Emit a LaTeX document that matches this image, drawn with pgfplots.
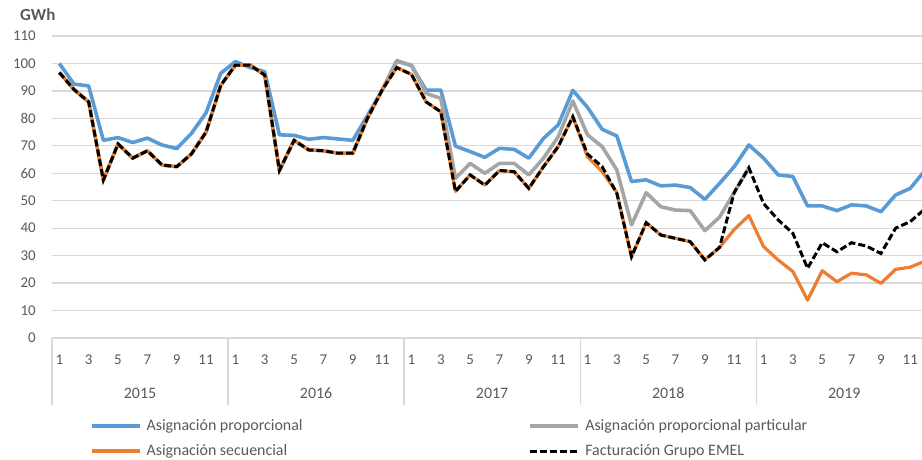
\documentclass[border=0pt]{standalone}
\usepackage{pgfplots}
\pgfplotsset{compat=1.18}
\usepackage{fontspec}
\setmainfont{Carlito}
\definecolor{cblue}{HTML}{5B9BD5}
\definecolor{corange}{HTML}{ED7D31}
\definecolor{cgray}{HTML}{A5A5A5}
\definecolor{ctext}{HTML}{595959}
\definecolor{cgrid}{HTML}{D9D9D9}
\begin{document}
\begin{tikzpicture}
\begin{axis}[
  at={(0,0)}, anchor=south west,
  scale only axis, width=870bp, height=302bp,
  xmin=-0.5, xmax=58.8, ymin=0, ymax=110,
  clip mode=individual,
  axis line style={draw=none},
  ytick={0,10,...,110},
  ymajorgrids, major grid style={draw=cgrid, line width=1.3bp},
  ytick style={draw=none},
  yticklabel style={anchor=east, inner sep=0pt, xshift=-16bp, font=\fontsize{15}{17}\selectfont, text=ctext},
  /pgf/number format/assume math mode=true,
  xtick={0,2,...,58},
  xticklabels={1,3,5,7,9,11,1,3,5,7,9,11,1,3,5,7,9,11,1,3,5,7,9,11,1,3,5,7,9,11},
  xtick pos=lower,
  major tick length=0pt,
  xticklabel style={anchor=base, yshift=-26bp, font=\fontsize{15}{17}\selectfont, text=ctext},
  extra x ticks={-0.5,11.5,23.5,35.5,47.5},
  extra x tick labels={},
  extra x tick style={major tick length=67bp, tick align=outside, tick style={draw=cgrid, line width=1.3bp}, xmajorgrids=false},
  legend columns=2,
  legend style={at={(axis description cs:0,0)}, anchor=north west, xshift=38bp, yshift=-81bp,
    draw=none, fill=none, inner sep=0pt, outer sep=0pt,
    font=\fontsize{16}{18}\selectfont, text=ctext,
    nodes={inner sep=0pt, text height=11bp, text depth=3bp},
    row sep=11bp,
    /tikz/every odd column/.append style={column sep=5bp},
    /tikz/every even column/.append style={column sep=226bp}},
  legend cell align=left,
  legend image code/.code={\draw[#1] (0bp,0bp) -- (48bp,0bp);},
]
\addplot[cblue, line width=3.6bp, line join=round] coordinates {
(0,100)(1,92.5)(2,91.8)(3,72)(4,73)(5,71.2)(6,72.8)(7,70.3)(8,69)(9,74.5)(10,82)(11,96.4)
(12,100.7)(13,98.5)(14,97)(15,74)(16,73.8)(17,72.4)(18,73)(19,72.5)(20,72)(21,81)(22,90.3)(23,101)
(24,99.2)(25,90.3)(26,90.3)(27,69.9)(28,67.9)(29,65.8)(30,69.1)(31,68.7)(32,65.5)(33,72.7)(34,77.6)(35,90.2)
(36,84)(37,76)(38,73.6)(39,57)(40,57.6)(41,55.4)(42,55.7)(43,54.8)(44,50.5)(45,56.3)(46,62.4)(47,70.3)
(48,65.5)(49,59.4)(50,58.8)(51,48.1)(52,48.1)(53,46.4)(54,48.5)(55,48.1)(56,46)(57,52.1)(58,54.5)(59,61)
};
\addlegendentry{Asignación proporcional}
\addplot[cgray, line width=3.6bp, line join=round] coordinates {
(0,96.7)(1,90.5)(2,86)(3,57.5)(4,70.7)(5,65.5)(6,68.2)(7,63)(8,62.4)(9,67)(10,75)(11,92)
(12,99.4)(13,99.4)(14,95.8)(15,61)(16,72)(17,68.5)(18,68.2)(19,67.3)(20,67.3)(21,80)(22,90.3)(23,100.7)
(24,99.4)(25,89.1)(26,87.3)(27,58.2)(28,63.6)(29,60)(30,63.6)(31,63.6)(32,59.4)(33,65.5)(34,73.3)(35,86.3)
(36,74)(37,69.7)(38,61.2)(39,41.2)(40,52.9)(41,47.8)(42,46.6)(43,46.4)(44,39.1)(45,44)(46,53)(47,62)
};
\addlegendentry{Asignación proporcional particular}
\addplot[corange, line width=3.2bp, line join=round] coordinates {
(0,96.7)(1,90.5)(2,86)(3,57.5)(4,70.7)(5,65.5)(6,68.2)(7,63)(8,62.4)(9,67)(10,75)(11,92)
(12,99.4)(13,99.4)(14,95.8)(15,61)(16,72)(17,68.5)(18,68.2)(19,67.3)(20,67.3)(21,80)(22,90.3)(23,98.5)
(24,96)(25,86)(26,82.4)(27,53.4)(28,59.4)(29,55.7)(30,61)(31,60.6)(32,54.5)(33,62.4)(34,69.7)(35,80.6)
(36,66)(37,60.6)(38,53)(39,29.6)(40,42)(41,37.5)(42,36.3)(43,35.1)(44,28.5)(45,33)(46,39.5)(47,44.6)
(48,33.3)(49,28.4)(50,24.2)(51,13.8)(52,24.5)(53,20.5)(54,23.6)(55,23)(56,19.9)(57,25)(58,25.8)(59,28)
};
\addlegendentry{Asignación secuencial}
\addplot[black, line width=3bp, dash pattern=on 7bp off 3bp] coordinates {
(0,96.7)(1,90.5)(2,86)(3,57.5)(4,70.7)(5,65.5)(6,68.2)(7,63)(8,62.4)(9,67)(10,75)(11,92)
(12,99.4)(13,99.4)(14,95.8)(15,61)(16,72)(17,68.5)(18,68.2)(19,67.3)(20,67.3)(21,80)(22,90.3)(23,98.5)
(24,96)(25,86)(26,82.4)(27,53.4)(28,59.4)(29,55.7)(30,61)(31,60.6)(32,54.5)(33,62.4)(34,69.7)(35,80.6)
(36,67)(37,62.4)(38,52.7)(39,29.6)(40,42)(41,37.5)(42,36.3)(43,35.1)(44,28.4)(45,33)(46,53)(47,62)
(48,49)(49,43)(50,38.1)(51,25.4)(52,34.7)(53,31.4)(54,34.7)(55,33.5)(56,30.8)(57,40)(58,42.4)(59,47)
};
\addlegendentry{Facturación Grupo EMEL}
\node[font=\fontsize{16}{18}\selectfont, text=ctext] at (axis cs:5.5,0) [yshift=-55bp] {2015};
\node[font=\fontsize{16}{18}\selectfont, text=ctext] at (axis cs:17.5,0) [yshift=-55bp] {2016};
\node[font=\fontsize{16}{18}\selectfont, text=ctext] at (axis cs:29.5,0) [yshift=-55bp] {2017};
\node[font=\fontsize{16}{18}\selectfont, text=ctext] at (axis cs:41.5,0) [yshift=-55bp] {2018};
\node[font=\fontsize{16}{18}\selectfont, text=ctext] at (axis cs:53.5,0) [yshift=-55bp] {2019};
\end{axis}
\node[anchor=west, inner sep=0pt, font=\fontsize{17}{19}\selectfont\bfseries, text=ctext] at (-32bp,323bp) {GWh};
\pgfresetboundingbox
\path (-52bp,-122bp) rectangle (870bp,338bp);
\end{tikzpicture}
\end{document}
